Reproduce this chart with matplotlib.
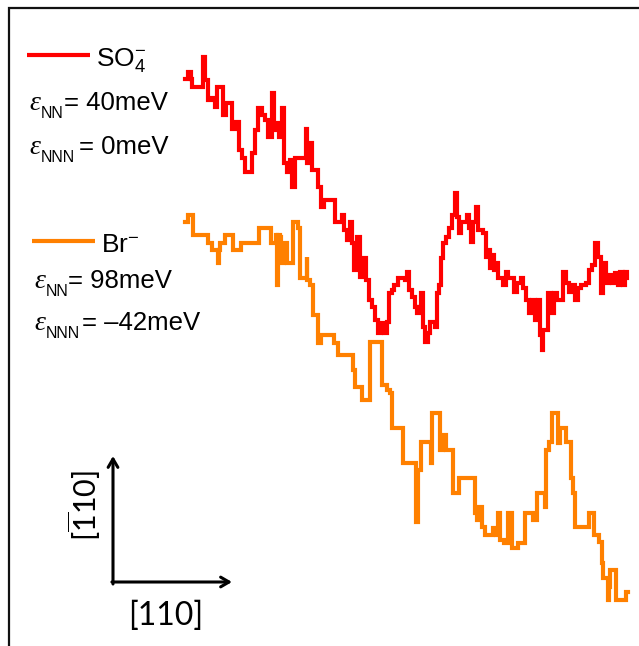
import matplotlib
matplotlib.use("Agg")
import matplotlib.pyplot as plt
from matplotlib.patches import Rectangle

plt.rcParams['font.family'] = ['Liberation Sans', 'DejaVu Sans']
plt.rcParams['mathtext.fontset'] = 'custom'
plt.rcParams['mathtext.rm'] = 'Liberation Sans'
plt.rcParams['mathtext.it'] = 'Liberation Serif:italic'
plt.rcParams['mathtext.sf'] = 'Lato'

# step-edge traces (image pixel coordinates, y downward)
so4_x = [185, 188, 191, 192, 203, 205, 208, 212, 215, 217, 223, 226, 230, 232, 236, 239, 242, 245, 250, 252,
         255, 258, 262, 265, 268, 272, 274, 276, 279, 282, 284, 287, 290, 292, 295, 302, 306, 307, 310, 312,
         315, 318, 321, 324, 332, 335, 340, 342, 344, 347, 350, 352, 354, 357, 360, 363, 366, 369, 372, 375,
         378, 381, 384, 387, 389, 392, 394, 398, 405, 407, 409, 412, 415, 417, 419, 421, 423, 425, 428, 430,
         434, 435, 437, 439, 441, 443, 446, 449, 452, 455, 457, 459, 461, 465, 467, 469, 471, 473, 476, 478,
         483, 486, 488, 490, 492, 494, 496, 498, 503, 506, 508, 512, 514, 517, 521, 523, 526, 529, 532, 535,
         538, 540, 542, 543, 547, 548, 551, 554, 557, 562, 563, 566, 569, 572, 575, 578, 581, 586, 589, 592,
         595, 598, 601, 603, 606, 609, 612, 615, 618, 620, 623, 625, 627]
so4_y = [79, 72, 79, 87, 57, 80, 100, 98, 107, 87, 115, 103, 103, 129, 122, 150, 158, 172, 172, 153,
         130, 108, 115, 120, 137, 93, 130, 123, 137, 108, 163, 172, 160, 187, 158, 158, 129, 163, 143, 170,
         170, 187, 207, 200, 200, 222, 222, 215, 230, 240, 222, 243, 270, 237, 277, 258, 280, 300, 307, 320,
         333, 323, 333, 322, 293, 290, 285, 278, 280, 272, 290, 297, 307, 313, 307, 293, 327, 342, 333, 322,
         322, 327, 293, 285, 258, 243, 237, 228, 215, 193, 217, 233, 222, 222, 215, 228, 242, 222, 207, 230,
         233, 257, 250, 268, 255, 270, 263, 278, 285, 272, 278, 278, 292, 283, 278, 288, 300, 313, 300, 320,
         300, 335, 350, 330, 330, 293, 313, 293, 300, 300, 272, 283, 292, 285, 300, 288, 285, 283, 270, 265,
         243, 257, 293, 263, 283, 275, 283, 273, 285, 272, 285, 272, 278]

br_x = [185, 188, 192, 193, 207, 208, 212, 217, 218, 219, 220, 225, 232, 233, 240, 241, 258, 259, 270, 271,
        275, 276, 277, 278, 280, 281, 283, 284, 286, 287, 292, 293, 297, 298, 300, 306, 306.5, 307, 310, 313,
        317, 318, 320, 321, 333, 334, 335, 338, 350, 353, 355, 360, 362, 368, 370, 380, 382, 387, 390, 392,
        402, 403, 415, 416, 418, 419, 421, 430, 431, 432, 439, 440, 443, 446, 452, 453, 458, 459, 474, 475,
        477, 479, 482, 485, 491, 493, 496, 498, 500, 504, 508, 511, 512, 517, 518, 524, 525, 532, 533, 536,
        537, 544, 545, 546, 549, 552, 557, 558, 560, 565, 566, 570, 571, 573, 574, 575, 588, 589, 593, 594,
        598, 599, 601, 602, 603, 607, 608, 609, 610, 612, 615, 616, 625, 626, 628]
br_y = [222, 215, 215, 235, 235, 243, 250, 250, 263, 250, 243, 235, 235, 250, 250, 243, 243, 228, 228, 243,
        243, 235, 285, 235, 237, 263, 263, 243, 243, 263, 263, 222, 222, 228, 278, 278, 257, 280, 285, 315,
        315, 343, 343, 335, 335, 343, 343, 355, 355, 370, 387, 387, 400, 400, 342, 342, 385, 390, 393, 428,
        428, 463, 463, 522, 470, 470, 442, 442, 463, 413, 413, 450, 435, 450, 450, 493, 493, 478, 478, 513,
        520, 507, 527, 535, 535, 528, 535, 513, 540, 543, 513, 513, 548, 548, 543, 543, 513, 513, 520, 520,
        493, 493, 507, 450, 442, 413, 413, 443, 428, 428, 442, 442, 478, 493, 493, 527, 527, 513, 513, 535,
        535, 542, 542, 563, 578, 578, 600, 587, 570, 570, 570, 600, 600, 592, 592]

red = '#FF0000'
orange = '#FF8000'

fig = plt.figure(figsize=(6.39, 6.46), dpi=100)
ax = fig.add_axes([0, 0, 1, 1])
ax.set_xlim(0, 639)
ax.set_ylim(646, 0)
ax.axis('off')

# frame (top and left visible)
fig.patches.append(Rectangle((9 / 639, -0.1), 1.2, (646 - 8) / 646 + 0.1,
                             transform=fig.transFigure, fill=False, edgecolor='#111111', lw=1.6))

ax.plot(so4_x, so4_y, drawstyle='steps-post', color=red, lw=3.0, solid_joinstyle='miter')
ax.plot(br_x, br_y, drawstyle='steps-post', color=orange, lw=3.0, solid_joinstyle='miter')


def eps_label(x, y, sub, x_eq, rest):
    ax.text(x, y, 'ε', fontsize=20, family='Liberation Serif', style='italic',
            va='baseline', ha='left')
    ax.text(x + 12, y + 8, sub, fontsize=11.5, va='baseline', ha='left')
    ax.text(x_eq, y, rest, fontsize=18.5, va='baseline', ha='left')


# legend-like labels
ax.plot([27, 90], [55, 55], color=red, lw=3.0, solid_capstyle='butt')
ax.text(96, 66, r'SO$_4^{-}$', fontsize=19, va='baseline', ha='left')
eps_label(29, 110, 'NN', 64, '= 40meV')
eps_label(29, 154, 'NNN', 79, '= 0meV')

ax.plot([32, 95], [241, 241], color=orange, lw=3.0, solid_capstyle='butt')
ax.text(101, 252, r'Br$^{-}$', fontsize=19, va='baseline', ha='left')
eps_label(34, 288, 'NN', 68, '= 98meV')
eps_label(34, 330, 'NNN', 82, '= –42meV')

# crystal direction arrows
ax.annotate('', xy=(113, 456), xytext=(113, 584),
            arrowprops=dict(arrowstyle='->,head_length=0.6,head_width=0.35', lw=2.2, color='black',
                            shrinkA=0, shrinkB=0))
ax.annotate('', xy=(232, 582), xytext=(111.9, 582),
            arrowprops=dict(arrowstyle='->,head_length=0.6,head_width=0.35', lw=2.2, color='black',
                            shrinkA=0, shrinkB=0))
ax.text(166, 616, '[110]', fontsize=23, family='Lato', ha='center', va='center')
ax.text(84, 506, r'[$\mathsf{\overline{1}}$10]', fontsize=22, family='Lato', ha='center', va='center',
        rotation=90)

fig.savefig('out.png', dpi=100)
